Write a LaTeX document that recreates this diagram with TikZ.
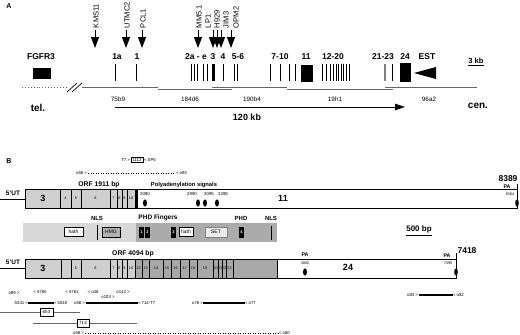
\documentclass[tikz,border=0pt]{standalone}
\usepackage{fontspec}
\setmainfont{Liberation Sans}
\usetikzlibrary{arrows.meta}
\newcommand\myfs[1]{\fontsize{#1}{#1}\selectfont}
\definecolor{tgray}{HTML}{CFCFCF}
\definecolor{dgray}{HTML}{A8A8A8}
\definecolor{pl}{HTML}{D8D8D8}
\definecolor{pd}{HTML}{ABABAB}
\definecolor{lgray}{HTML}{666666}
\begin{document}
\begin{tikzpicture}[x=1pt,y=-1pt,
  every node/.style={inner sep=0pt, outer sep=0pt},
  bl/.style={font=\bfseries\myfs{#1}},
  rg/.style={font=\myfs{#1}},
  rot/.style={font=\myfs{7.5}, rotate=90, anchor=west},
  darr/.style={line width=1pt, -{Triangle[length=11pt,width=8pt]}},
  ex/.style={line width=0.9pt},
  contig/.style={line width=0.9pt, lgray},
  sm/.style={font=\myfs{4.3}},
  primer/.style={line width=1.3pt},
  frag/.style={line width=0.6pt, lgray},
  box/.style={draw, line width=0.5pt},
  blk/.style={fill=black, text=white, font=\bfseries\myfs{4}},
]
\useasboundingbox (0,0) rectangle (520,335);

% ================= Panel A =================
\node[bl=7] (A) at (9,6) {A};
\node[rot] (kms) at (96,28) {KMS11};
\node[rot] (utmc) at (127,28) {UTMC2};
\node[rot] (pcl) at (143,28) {PCL1};
\node[rot] (mm) at (199,28) {MM5.1};
\node[rot] (lp) at (208,28) {LP1};
\node[rot] (h929) at (217,28) {H929};
\node[rot] (jim) at (226,28) {JIM3};
\node[rot] (opm) at (236,28) {OPM2};
\foreach \x in {95,126,142,198,213,217,221,231}
  \draw[darr] (\x,29.5) -- (\x,48);

% exon labels
\node[bl=8.5] (fg) at (41,57) {FGFR3};
\node[bl=8.5] at (117,57) {1a};
\node[bl=8.5] at (137,57) {1};
\node[bl=8.5] at (196,57) {2a - e};
\node[bl=8.5] at (213,57) {3};
\node[bl=8.5] at (223,57) {4};
\node[bl=8.5] at (238,57) {5-6};
\node[bl=8.5] at (280,57) {7-10};
\node[bl=8.5] at (306,57) {11};
\node[bl=8.5] at (333,57) {12-20};
\node[bl=8.5] at (383,57) {21-23};
\node[bl=8.5] at (405,57) {24};
\node[bl=8.5] at (427,57) {EST};
\node[bl=7.5] (kb3) at (476,61) {3 kb};
\draw[line width=0.5pt] (kb3.south west) ++(0,1) -- ++(15,0);

% FGFR3 box
\fill (33,68) rectangle (51,79);
% exon bars
\foreach \x in {115,136,191,194,197,203,207,223,234,237,270,280,289,295,322,326,330,333,336,338.5,341,343.5,346,349,392}
  \draw[ex] (\x,64) -- (\x,81);
\draw[line width=2.4pt] (213.5,64) -- (213.5,81);
\draw[line width=1.5pt, gray] (385,64) -- (385,81);
\fill (301,65) rectangle (313,82);
\fill (400,63) rectangle (411,82);
% EST triangle
\fill (414,73) -- (436,67) -- (436,79) -- cycle;

% contigs
\draw[contig, dotted] (22,87) -- (67,87);
\draw[line width=0.7pt] (67,92) -- (77,83);
\draw[line width=0.7pt] (72,92) -- (82,83);
\draw[contig] (82,87) -- (158,87);
\draw[contig] (158,89) -- (232,89);
\draw[contig] (212,87) -- (287,87);
\draw[contig] (287,89) -- (393,89);
\draw[contig] (385,87) -- (477,87);
\node[rg=6.3] at (118,99) {75b9};
\node[rg=6.3] at (190,99) {184d6};
\node[rg=6.3] at (252,99) {190b4};
\node[rg=6.3] at (335,99) {19h1};
\node[rg=6.3] at (429,99) {96a2};
\node[bl=10] (tel) at (38,108) {tel.};
\node[bl=10] (cen) at (478,106) {cen.};
\coordinate (kbs) at (115,107);
\coordinate (kbe) at (405,107);
\draw[line width=0.9pt, -{Triangle[length=10pt,width=6.5pt]}] (kbs) -- (kbe);
\node[bl=9] at (247,117) {120 kb};

% ================= Panel B =================
\node[bl=7] (B) at (9,161) {B};
\node[sm, anchor=east] (t7) at (130,160) {T7 >};
\node[box, sm, minimum width=12pt, minimum height=5pt] (b1112) at (137,160) {1112};
\node[sm, anchor=west] (sp6) at (144,160) {< SP6};
\node[sm, anchor=east] (o58a) at (87,173) {o58 >};
\node[sm, anchor=west] (o93) at (176,173) {< o93};
\draw[dotted, line width=0.5pt] (o58a.east) ++(1,0) -- ([xshift=-1pt]o93.west);

% ---- transcript 1 ----
\node[bl=6.8] at (99,185) {ORF 1911 bp};
\node[bl=5.8] at (184,185) {Polyadenylation signals};
\node[bl=6.5] (ut1) at (13,193) {5'UT};
\draw[line width=0.8pt] (0,199) -- (25,199);
\fill[tgray] (25,189) rectangle (135,208);
\foreach \x in {60,71,81,110,117,122,127}
  \draw[line width=0.5pt] (\x,189) -- (\x,208);
\fill (135,189) rectangle (137.5,208);
\draw[line width=0.7pt] (25,189) rectangle (517,208);
\node[bl=9] at (43,198.5) {3};
\foreach \x/\t in {65.5/4,76/5,95.5/6,113.5/7,119.5/8,124.5/9,131/10}
  \node[font=\myfs{3.8}] at (\x,198.5) {\t};
\node[bl=9] at (283,198.5) {11};
\foreach \x/\t in {145/2090,192/2990,209/3095,223/3288}
  \node[sm] at (\x,194) {\t};
\foreach \x in {145,198,205,217}
  \fill (\x,203) ellipse (2 and 3.6);
\node[bl=8.5] at (508,179) {8389};
\node[bl=5.3] at (507,186.5) {PA};
\draw[line width=0.5pt] (517,184) -- (517,189);
\node[font=\myfs{3.8}] at (510,194) {8364};
\fill (517,203) ellipse (1.8 and 3.6);

% ---- protein ----
\fill[pl] (23,223) rectangle (136,242);
\fill[pd] (136,223) rectangle (277,242);
\node[bl=6] at (97,218) {NLS};
\node[bl=6.5] at (158,218) {PHD Fingers};
\node[bl=6] at (241,218) {PHD};
\node[bl=6] at (271,218) {NLS};
\node[box, fill=white, font=\myfs{5}, minimum width=19pt, minimum height=9pt] (hath1) at (73.5,231.5) {hath};
\fill (96.5,225) rectangle (98,240);
\node[box, fill=gray!60, font=\myfs{5}, minimum width=18pt, minimum height=10pt] (hmg) at (111,232) {HMG};
\node[blk, minimum width=5pt, minimum height=11pt] (phd1) at (141.5,232.5) {1};
\node[blk, minimum width=5pt, minimum height=11pt] (phd2) at (147.5,232.5) {2};
\node[blk, minimum width=5pt, minimum height=11pt] (phd3) at (173.5,232.5) {3};
\node[box, fill=white, font=\myfs{5}, minimum width=14pt, minimum height=9pt] (hath2) at (186,231.5) {hath};
\node[box, draw=gray, fill=gray!15, font=\myfs{5}, minimum width=22pt, minimum height=10pt] (set) at (216,232) {SET};
\node[blk, minimum width=5pt, minimum height=11pt] (phd4) at (241.5,232.5) {4};
\fill (270.5,226) rectangle (272,240);

\node[bl=8] (bp500) at (419,229) {500 bp};
\draw[line width=0.6pt] (406,235) -- (432,235);

% ---- transcript 2 ----
\node[bl=6.8] at (133,254) {ORF 4094 bp};
\node[bl=6.5] (ut2) at (13,262) {5'UT};
\draw[line width=0.8pt] (0,268) -- (25,268);
\fill[tgray] (25,259) rectangle (135,278);
\fill[dgray] (135,259) rectangle (277,278);
\foreach \x in {61,71,81,110,117,122,127,135,142,149,163,171,180,189,197,213,218,222,226,233,277}
  \draw[line width=0.5pt] (\x,259) -- (\x,278);
\draw[line width=0.7pt] (25,259) rectangle (456,278);
\node[bl=9] at (43,268.5) {3};
\foreach \x/\t in {76/5,95.5/6,113.5/7,119.5/8,124.5/9,131/10,138.5/12,145.5/13,156/14,167/15,175.5/16,184.5/17,193/18,205/19,215.5/20,220/21,224/22,229.5/23}
  \node[font=\myfs{3.8}] at (\x,268.5) {\t};
\node[bl=5.3] at (305,255) {PA};
\node[font=\myfs{3.8}] at (305,263) {4982};
\fill (305,272) ellipse (2 and 3.6);
\node[bl=9] at (348,267) {24};
\node[bl=8.5] at (467,251) {7418};
\node[bl=5.3] at (447,255.5) {PA};
\draw[line width=0.5pt] (456,253) -- (456,259);
\node[font=\myfs{3.8}] at (448,263) {7395};
\fill (456,272) ellipse (1.8 and 3.6);

% ---- primers & fragments ----
\node[sm] (o99) at (14,293) {o99 >};
\node[sm] (p5760) at (40,292) {< 5760};
\node[sm] (p5761) at (72,292) {< 5761};
\node[sm] (o48) at (93,292) {< o48};
\node[sm] (o143) at (123,292) {o143 >};
\node[sm] (o103) at (108,297) {o103 >};

\node[sm, anchor=east] (p5541) at (28,303) {5541 >};
\node[sm, anchor=west] (p5540) at (54,303) {< 5540};
\draw[primer] (p5541.east) -- (p5540.west);
\node[sm, anchor=east] (o58b) at (85,303) {o58 >};
\node[sm, anchor=west] (t714) at (138,303) {< 714-T7};
\draw[primer] ([xshift=1pt]o58b.east) -- (t714.west);
\node[sm, anchor=east] (o76) at (203,303) {o76 >};
\node[sm, anchor=west] (o77) at (245,303) {< o77};
\draw[primer] (o76.east) -- (o77.west);
\node[sm, anchor=east] (o83) at (418,295) {o83 >};
\node[sm, anchor=west] (o82) at (453,295) {< o82};
\draw[primer] ([xshift=1pt]o83.east) -- (o82.west);

\coordinate (f1a) at (0,312);
\coordinate (f1b) at (80,312);
\draw[frag] (f1a) -- (f1b);
\node[box, fill=white, font=\myfs{4.5}, minimum width=13pt, minimum height=8pt] (c653) at (46.5,312) {653};
\coordinate (f2a) at (33,323);
\coordinate (f2b) at (137,323);
\draw[frag] (f2a) -- (f2b);
\node[box, fill=white, font=\myfs{4.5}, minimum width=12pt, minimum height=8pt] (c714) at (83,323) {714};

\node[sm, anchor=east] (o58c) at (84,333) {o58 >};
\node[sm, anchor=west] (o80) at (279,333) {< o80};
\draw[dotted, line width=0.5pt] ([xshift=1pt]o58c.east) -- ([xshift=-1pt]o80.west);
\end{tikzpicture}
\end{document}
